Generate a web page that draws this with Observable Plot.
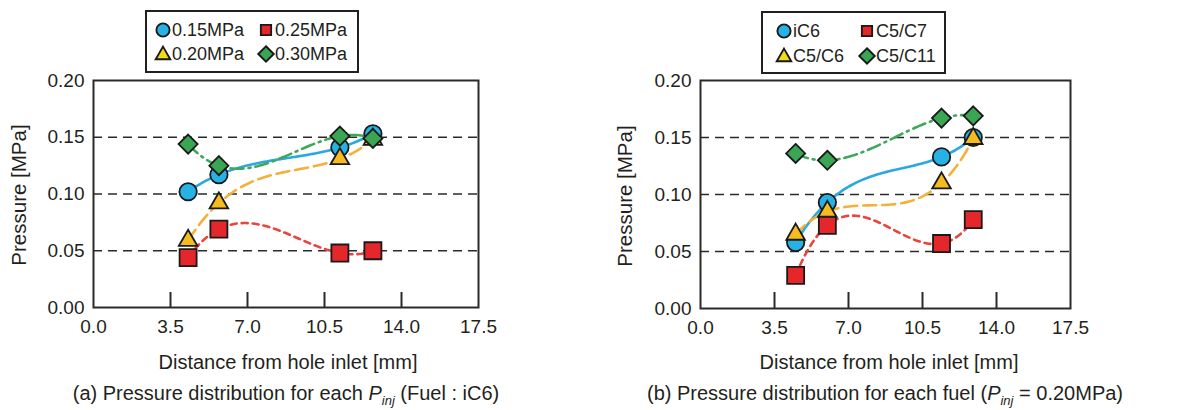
<!DOCTYPE html>
<html><head><meta charset="utf-8">
<script src="https://cdn.jsdelivr.net/npm/d3@7"></script>
<script src="https://cdn.jsdelivr.net/npm/@observablehq/plot@0.6"></script>
<style>
body{margin:0;background:#fff;font-family:"Liberation Sans",Arial,sans-serif;color:#231f20;}
#wrap{position:relative;width:1182px;height:410px;overflow:hidden;}
.panel{position:absolute;top:0;}
.legend{position:absolute;border:2px solid #231f20;background:#fff;box-sizing:border-box;}
.legend .item{position:absolute;font-size:18px;line-height:18px;white-space:nowrap;}
.legend svg{position:absolute;}
.caption{position:absolute;font-size:20px;white-space:nowrap;transform:translateX(-50%);}
.caption sub{font-size:13px;font-style:italic;vertical-align:-5px;}
</style></head>
<body><div id="wrap"></div>
<script>
// ---------- data ----------
const xTicks = [0, 3.5, 7, 10.5, 14, 17.5];
const xInner = [3.5, 7, 10.5, 14];
const yTicks = [0, 0.05, 0.10, 0.15, 0.20];
const yGrid = [0.05, 0.10, 0.15];

// (a) fuel iC6, each injection pressure
const distA = [4.3, 5.7, 11.2, 12.7];
const a015 = [0.102, 0.117, 0.141, 0.153];
const a020 = [0.059, 0.092, 0.131, 0.148];
const a025 = [0.044, 0.069, 0.048, 0.050];
const a030 = [0.144, 0.125, 0.151, 0.149];
const namesA = ["0.15MPa", "0.20MPa", "0.25MPa", "0.30MPa"];

// (b) Pinj = 0.20MPa, each fuel
const distB = [4.5, 6.0, 11.4, 12.9];
const bIC6 = [0.058, 0.093, 0.133, 0.150];
const bC5C6 = [0.065, 0.085, 0.110, 0.149];
const bC5C7 = [0.029, 0.073, 0.057, 0.078];
const bC5C11 = [0.136, 0.130, 0.167, 0.169];
const namesB = ["iC6", "C5/C6", "C5/C7", "C5/C11"];

// ---------- styles ----------
const styles = [
  {symbol:"circle",   r:8.7, lr:6.6, fill:"#27b2e6", lfill:"#27b2e6", line:"#2aa8e0", dash:null},
  {symbol:"triangle", r:6.9, lr:5.4, fill:"#f6bb1e", lfill:"#f2dc1a", line:"#f4b13a", dash:"13,6"},
  {symbol:"square",   r:9.6, lr:5.8, fill:"#e5262b", lfill:"#e5262b", line:"#e8453e", dash:"6,5"},
  {symbol:"diamond2", r:8.6, lr:7.0, fill:"#3aa552", lfill:"#3aa552", line:"#3fa85a", dash:"13,5,2,5"}
];

// smooth curve: single polynomial through the series' points (drawn by Plot as a custom curve)
function polyCurve(context){
  let pts = [];
  return {
    areaStart(){}, areaEnd(){},
    lineStart(){ pts = []; },
    point(x, y){ pts.push([+x, +y]); },
    lineEnd(){
      if (!pts.length) return;
      const n = pts.length, x0 = pts[0][0], x1 = pts[n-1][0], steps = 80;
      const f = (x) => {
        let s = 0;
        for (let i = 0; i < n; i++) {
          let l = 1;
          for (let j = 0; j < n; j++) if (j !== i) l *= (x - pts[j][0]) / (pts[i][0] - pts[j][0]);
          s += l * pts[i][1];
        }
        return s;
      };
      for (let k = 0; k <= steps; k++) {
        const x = x0 + (x1 - x0) * k / steps;
        if (k === 0) context.moveTo(x, f(x)); else context.lineTo(x, f(x));
      }
    }
  };
}

function rows(xs, ys){ return xs.map((x,i)=>({x, y: ys[i]})); }

function makePlot(xs, seriesList, opts){
  const marks = [
    Plot.ruleY(yGrid, {stroke:"#2a2a2a", strokeWidth:1.4, strokeDasharray:"9,6"}),
    Plot.ruleX(xInner, {stroke:"#2a2a2a", strokeWidth:2, insetTop: 212}),
    Plot.axisX({ticks: xTicks, tickSize: 0, tickPadding: 12, tickFormat: d3.format(".1f"), fontSize: 19, label: null}),
    Plot.axisY({ticks: yTicks, tickSize: 0, tickPadding: 9, tickFormat: d3.format(".2f"), fontSize: 19, label: null}),
    Plot.frame({stroke:"#2a2a2a", strokeWidth: 2})
  ];
  seriesList.forEach((ys, i) => {
    const s = styles[i];
    marks.push(Plot.line(rows(xs, ys), {x:"x", y:"y", curve: polyCurve, stroke:s.line, strokeWidth:2.6, strokeDasharray: s.dash || undefined}));
  });
  seriesList.forEach((ys, i) => {
    const s = styles[i];
    marks.push(Plot.dot(rows(xs, ys), {x:"x", y:"y", symbol: () => s.symbol, r: s.r, fill: s.fill, stroke:"#1a1a1a", strokeWidth:1.8}));
  });
  return Plot.plot({
    width: opts.width, height: 410,
    marginLeft: opts.ml, marginRight: opts.mr, marginTop: 80, marginBottom: opts.mb,
    style: {fontFamily: '"Liberation Sans", Arial, sans-serif', color:"#231f20", background:"transparent", overflow:"visible"},
    x: {domain: [0, 17.5]},
    y: {domain: [0, 0.20]},
    symbol: {type: "identity"},
    marks
  });
}

const wrap = document.getElementById("wrap");
const ylabelX = {0: 19, 600: 25};

function addPanel(left, plot, xLabel, yLabel, labelX, frameMidY){
  const d = document.createElement("div");
  d.className = "panel"; d.style.left = left + "px";
  d.appendChild(plot);
  wrap.appendChild(d);
  const svg = d3.select(plot);
  svg.append("text").attr("x", labelX).attr("y", 369).attr("text-anchor","middle")
     .attr("font-size", 20).attr("fill","#231f20").text(xLabel);
  svg.append("text").attr("transform", `translate(${ylabelX[left]},${frameMidY}) rotate(-90)`)
     .attr("text-anchor","middle").attr("dy","0.35em").attr("font-size", 20.5).attr("fill","#231f20").text(yLabel);
}

const plotA = makePlot(distA, [a015, a020, a025, a030], {width: 560, ml: 93, mr: 82, mb: 103});
addPanel(0, plotA, "Distance from hole inlet [mm]", "Pressure [MPa]", 288, 195);
const plotB = makePlot(distB, [bIC6, bC5C6, bC5C7, bC5C11], {width: 582, ml: 100, mr: 112, mb: 102});
addPanel(600, plotB, "Distance from hole inlet [mm]", "Pressure [MPa]", 289, 196);

// ---------- legends ----------
function symbolPath(name, r){
  const t = {circle: d3.symbolCircle, triangle: d3.symbolTriangle, square: d3.symbolSquare, diamond2: d3.symbolDiamond2}[name];
  return d3.symbol(t, Math.PI * r * r)();
}
function addLegend(box, names, layout){
  const lg = document.createElement("div");
  lg.className = "legend";
  Object.assign(lg.style, {left: box.x+"px", top: box.y+"px", width: box.w+"px", height: box.h+"px"});
  names.forEach((n, i) => {
    const [cx, cy] = layout[i];
    const s = styles[i];
    const sv = d3.create("svg").attr("width", 22).attr("height", 22)
      .style("left", (cx - 11) + "px").style("top", (cy - 11) + "px");
    sv.append("path").attr("d", symbolPath(s.symbol, s.lr)).attr("transform", s.symbol === "triangle" ? "translate(11,12)" : "translate(11,11)")
      .attr("fill", s.lfill).attr("stroke","#1a1a1a").attr("stroke-width",1.9);
    lg.appendChild(sv.node());
    const t = document.createElement("div");
    t.className = "item"; t.textContent = n;
    t.style.left = (cx + 9) + "px"; t.style.top = (cy - 9) + "px";
    lg.appendChild(t);
  });
  wrap.appendChild(lg);
}
addLegend({x:145, y:10, w:214, h:63}, namesA, [[16,18],[16,42],[119,18],[119,42]]);
addLegend({x:761, y:11, w:185, h:63}, namesB, [[21,18],[21,43],[104,18],[104,43]]);

// ---------- captions ----------
function addCaption(html, cx){
  const c = document.createElement("div");
  c.className = "caption"; c.innerHTML = html;
  c.style.left = cx + "px"; c.style.top = "382px";
  wrap.appendChild(c);
}
addCaption('(a) Pressure distribution for each <i>P</i><sub>inj</sub> (Fuel : iC6)', 286);
addCaption('(b) Pressure distribution for each fuel (<i>P</i><sub>inj</sub> = 0.20MPa)', 885);
</script></body></html>
